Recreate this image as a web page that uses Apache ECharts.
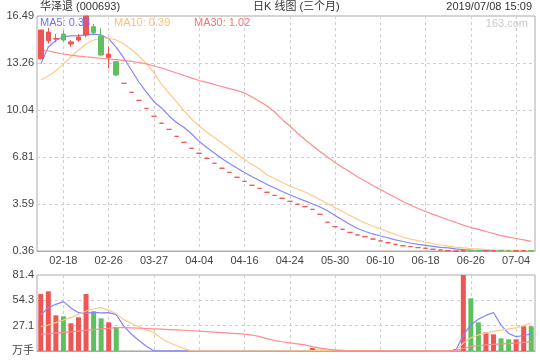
<!DOCTYPE html>
<html><head><meta charset="utf-8">
<script src="https://cdn.jsdelivr.net/npm/echarts@6/dist/echarts.min.js"></script>
<style>html,body{margin:0;padding:0;background:#fff}#c{width:540px;height:360px}</style>
</head><body><div id="c"></div>
<script>
// ---------- data ----------
const dates = ['02-13','02-14','02-15','02-18','02-19','02-20','02-21','02-22','02-25','02-26',
  '02-27','03-21','03-22','03-25','03-26','03-27','03-28','03-29','04-01','04-02',
  '04-03','04-04','04-08','04-09','04-10','04-11','04-15','04-16','04-17','04-18',
  '04-19','04-22','04-23','04-24','05-23','05-24','05-27','05-28','05-29','05-30',
  '05-31','06-03','06-04','06-05','06-06','06-10','06-11','06-12','06-13','06-14',
  '06-17','06-18','06-19','06-20','06-21','06-24','06-25','06-26','06-27','06-28',
  '07-01','07-02','07-03','07-04','07-05','07-08'];
const opens = [13.56,14.79,14.91,15.25,14.57,14.84,15.19,15.76,15.12,13.63,13.35,
  11.87,11.25,10.70,10.15,9.61,9.13,8.71,8.23,7.82,7.41,
  7.07,6.72,6.38,6.04,5.76,5.42,5.14,4.87,4.66,4.39,
  4.18,3.98,3.77,3.57,3.40,3.22,2.88,2.33,2.03,1.85,
  1.64,1.46,1.34,1.18,1.05,0.93,0.82,0.72,0.66,0.59,
  0.55,0.48,0.43,0.38,0.36,
  0.36,0.41,0.39,0.37,0.38,0.39,0.38,0.37,0.38,0.39];
const closes = [15.53,15.39,14.94,14.84,14.71,15.05,16.49,15.35,13.81,13.88,12.44,
  11.87,11.25,10.70,10.15,9.61,9.13,8.71,8.23,7.82,7.41,
  7.07,6.72,6.38,6.04,5.76,5.42,5.14,4.87,4.66,4.39,
  4.18,3.98,3.77,3.57,3.40,3.22,2.88,2.33,2.03,1.85,
  1.64,1.46,1.34,1.18,1.05,0.93,0.82,0.72,0.66,0.59,
  0.55,0.48,0.43,0.38,0.36,
  0.40,0.39,0.37,0.38,0.39,0.38,0.37,0.38,0.39,0.38];
const lows = [13.50,14.60,14.70,14.72,14.38,14.72,15.03,15.25,13.77,12.90,12.37,
  11.87,11.25,10.70,10.15,9.61,9.13,8.71,8.23,7.82,7.41,
  7.07,6.72,6.38,6.04,5.76,5.42,5.14,4.87,4.66,4.39,
  4.18,3.98,3.77,3.57,3.40,3.22,2.88,2.33,2.03,1.85,
  1.64,1.46,1.34,1.18,1.05,0.93,0.82,0.72,0.66,0.59,
  0.55,0.48,0.43,0.38,0.36,
  0.36,0.38,0.37,0.37,0.37,0.38,0.37,0.37,0.37,0.38];
const highs = [15.55,15.68,15.25,15.48,14.84,15.25,16.49,15.94,15.65,14.38,13.42,
  11.87,11.25,10.70,10.15,9.61,9.13,8.71,8.23,7.82,7.41,
  7.07,6.72,6.38,6.04,5.76,5.42,5.14,4.87,4.66,4.39,
  4.18,3.98,3.77,3.57,3.40,3.22,2.88,2.33,2.03,1.85,
  1.64,1.46,1.34,1.18,1.05,0.93,0.82,0.72,0.66,0.59,
  0.55,0.48,0.43,0.38,0.36,
  0.41,0.42,0.40,0.39,0.39,0.40,0.39,0.38,0.40,0.39];
const ma5 = [13.20,14.36,14.81,15.07,15.12,15.14,15.19,15.25,15.19,14.93,14.33,
  13.61,12.78,11.96,11.27,10.61,10.18,9.63,9.18,8.84,8.39,
  7.88,7.46,7.09,6.71,6.37,6.06,5.75,5.46,5.20,4.92,
  4.68,4.44,4.22,4.00,3.80,3.60,3.38,3.12,2.80,2.49,
  2.18,1.90,1.70,1.53,1.39,1.27,1.12,1.01,0.91,0.82,
  0.75,0.68,0.61,0.57,0.51,0.46,0.43,0.41,0.40,0.39,
  0.39,0.38,0.38,0.38,0.38];
const ma10 = [12.10,12.37,12.72,13.20,13.68,14.16,14.57,14.84,14.98,14.98,14.84,
  14.57,14.19,13.74,13.23,12.58,11.82,11.20,10.59,9.97,9.42,
  8.94,8.53,8.15,7.77,7.40,7.02,6.64,6.30,5.99,5.58,
  5.34,5.06,4.82,4.62,4.41,4.17,3.89,3.62,3.35,3.07,
  2.80,2.52,2.28,2.08,1.87,1.68,1.49,1.32,1.18,1.07,
  0.96,0.86,0.77,0.70,0.63,0.58,0.53,0.50,0.46,0.43,
  0.42,0.40,0.40,0.39,0.39];
const ma30 = [14.19,14.09,13.98,13.88,13.81,13.74,13.68,13.63,13.59,13.54,13.49,
  13.44,13.37,13.30,13.20,13.06,12.92,12.75,12.58,12.41,12.23,
  12.06,11.93,11.79,11.65,11.51,11.38,11.21,10.93,10.62,10.31,
  9.90,9.39,8.94,8.46,8.01,7.60,7.19,6.81,6.43,6.09,
  5.78,5.44,5.16,4.86,4.58,4.31,4.03,3.76,3.52,3.28,
  3.07,2.87,2.69,2.49,2.32,2.14,1.97,1.84,1.70,1.56,
  1.42,1.31,1.22,1.12,1.02];
const volumes = [61.0,63.9,38.2,37.2,29.7,36.1,61.0,42.5,35.0,30.7,25.4,
  0.1,0.1,0.1,0.1,0.1,0.1,0.1,0.1,0.1,0.1,
  0.1,0.1,0.1,0.1,0.1,0.1,0.1,0.1,0.1,0.1,
  0.1,0.1,0.1,0.1,0.1,3.2,0.1,0.1,0.1,0.1,
  0.1,0.1,0.1,0.1,0.1,0.1,0.1,0.1,0.1,0.1,
  0.1,0.1,1.1,0.1,2.1,81.4,56.4,30.7,20.0,17.9,
  13.6,12.5,12.5,26.5,26.5];
const vma5 = [38.6,46.5,50.0,52.9,46.0,41.0,40.4,41.3,40.9,41.1,38.9,
  26.7,18.2,11.2,5.1,0.1,0.1,0.1,0.1,0.1,0.1,
  0.1,0.1,0.1,0.1,0.1,0.1,0.1,0.1,0.1,0.1,
  0.1,0.1,0.1,0.1,0.1,0.7,0.7,0.7,0.7,0.7,
  0.1,0.1,0.1,0.1,0.1,0.1,0.1,0.1,0.1,0.1,
  0.1,0.1,0.3,0.3,0.7,16.9,28.2,34.1,38.1,41.3,
  27.7,18.9,15.3,16.6,18.3];
const vma10 = [26.1,27.8,30.4,33.2,35.8,39.3,42.8,45.0,46.5,43.5,40.0,
  33.6,29.8,26.0,22.6,19.5,13.4,9.1,5.6,2.5,0.1,
  0.1,0.1,0.1,0.1,0.1,0.1,0.1,0.1,0.1,0.1,
  0.1,0.1,0.1,0.1,0.1,0.4,0.4,0.4,0.4,0.4,
  0.4,0.4,0.4,0.4,0.4,0.1,0.1,0.1,0.1,0.1,
  0.1,0.1,0.2,0.2,0.4,8.5,14.1,17.2,19.2,21.0,
  22.3,23.6,24.7,27.4,29.8];
const vma30 = [17.9,18.5,19.2,19.9,20.5,21.3,22.1,22.9,23.6,24.3,25.0,
  25.0,24.8,24.4,24.1,23.8,23.4,23.0,22.6,22.2,21.7,
  21.2,20.7,20.2,19.7,19.2,18.7,18.0,17.1,15.4,13.3,
  11.2,9.9,8.7,7.7,6.5,4.6,3.1,2.0,1.0,0.2,
  0.2,0.2,0.2,0.2,0.2,0.2,0.2,0.2,0.2,0.2,
  0.2,0.2,0.2,0.2,0.3,2.9,4.8,5.8,6.5,7.1,
  7.6,8.0,8.4,9.3,10.1];
const priceMin = 0.36, priceMax = 16.49, priceSteps = 5;
const volMax = 81.4, volSteps = 3;
const volUnit = '万手';
const titleText = '华泽退 (000693)';
const subText = '日K 线图 (三个月)';
const timeText = '2019/07/08 15:09';
const siteText = '163.com';
const labelStart = 3, labelEvery = 6;

// ---------- styles ----------
const RED = '#ee5555', GREEN = '#5ec05e';
const C5 = '#8585ff', C10 = '#ffc987', C30 = '#ff8c8c';
const FONT = '"Liberation Sans","Noto Sans CJK SC",sans-serif';
const GRIDC = '#cfcfcf', BORDER = '#aaaaaa', TXT = '#444';

const isUp = i => closes[i] >= opens[i];
const kData = dates.map((d, i) => {
  const item = { value: [opens[i], closes[i], lows[i], highs[i]] };
  if (closes[i] === opens[i]) item.itemStyle = { color: RED, color0: RED, borderColor: RED, borderColor0: RED };
  return item;
});
const volData = volumes.map((v, i) => ({ value: v, itemStyle: { color: isUp(i) ? RED : GREEN } }));
const showIdx = i => (i - labelStart) % labelEvery === 0 && i >= labelStart;

function xAxis(gi, showLabel) {
  return {
    type: 'category', gridIndex: gi, data: dates, boundaryGap: true,
    axisLine: { show: true, lineStyle: { color: BORDER } },
    axisTick: { show: false },
    axisLabel: { show: showLabel, interval: showIdx, color: TXT, fontSize: 11, fontFamily: FONT, margin: 4 },
    splitLine: { show: true, interval: showIdx, alignWithLabel: true, lineStyle: { color: GRIDC, type: [3, 3] } }
  };
}
function line(name, data, color, xi, yi) {
  return { name, type: 'line', data, xAxisIndex: xi, yAxisIndex: yi, symbol: 'none', smooth: false,
    lineStyle: { color, width: 1.2 }, itemStyle: { color }, silent: true, z: 3 };
}

const chart = echarts.init(document.getElementById('c'), null, { renderer: 'canvas' });
chart.setOption({
  animation: false,
  backgroundColor: '#fff',
  grid: [
    { left: 37, right: 5, top: 16, height: 235, show: true, borderColor: BORDER, borderWidth: 1 },
    { left: 37, right: 5, top: 275, height: 76, show: true, borderColor: BORDER, borderWidth: 1 }
  ],
  xAxis: [xAxis(0, true), xAxis(1, false)],
  yAxis: [
    { type: 'value', gridIndex: 0, min: priceMin, max: priceMax, interval: (priceMax - priceMin) / priceSteps,
      axisLine: { show: false }, axisTick: { show: false },
      axisLabel: { color: TXT, fontSize: 11, fontFamily: FONT, margin: 3, formatter: v => v.toFixed(2) },
      splitLine: { show: true, showMinLine: false, showMaxLine: false, lineStyle: { color: GRIDC, type: [3, 3] } } },
    { type: 'value', gridIndex: 1, min: 0, max: volMax, interval: volMax / volSteps,
      axisLine: { show: false }, axisTick: { show: false },
      axisLabel: { color: TXT, fontSize: 11, fontFamily: FONT, margin: 3, formatter: v => v === 0 ? volUnit : v.toFixed(1) },
      splitLine: { show: true, showMinLine: false, showMaxLine: false, lineStyle: { color: GRIDC, type: [3, 3] } } }
  ],
  series: [
    { type: 'candlestick', xAxisIndex: 0, yAxisIndex: 0, data: kData, barWidth: 5, z: 4,
      itemStyle: { color: RED, color0: GREEN, borderColor: RED, borderColor0: GREEN, borderWidth: 1 } },
    line('MA5', ma5, C5, 0, 0), line('MA10', ma10, C10, 0, 0), line('MA30', ma30, C30, 0, 0),
    { type: 'bar', xAxisIndex: 1, yAxisIndex: 1, data: volData, barWidth: 5, z: 2 },
    line('VMA5', vma5, C5, 1, 1), line('VMA10', vma10, C10, 1, 1), line('VMA30', vma30, C30, 1, 1)
  ],
  graphic: [
    { type: 'text', x: 40, y: 7, style: { text: titleText, fill: '#333', font: '11px ' + FONT, textVerticalAlign: 'middle' } },
    { type: 'text', x: 253, y: 7, style: { text: subText, fill: '#333', font: '11px ' + FONT, textVerticalAlign: 'middle' } },
    { type: 'text', x: 532, y: 7, style: { text: timeText, fill: '#333', font: '11px ' + FONT, textAlign: 'right', textVerticalAlign: 'middle' } },
    { type: 'text', x: 528, y: 24, style: { text: siteText, fill: '#c8c8c8', font: '11px ' + FONT, textAlign: 'right', textVerticalAlign: 'middle' } },
    { type: 'text', x: 40, y: 23, z: 10, style: { text: 'MA5: ' + ma5[ma5.length - 1].toFixed(2), fill: '#7070ff', font: '11px ' + FONT, textVerticalAlign: 'middle' } },
    { type: 'text', x: 114, y: 23, z: 10, style: { text: 'MA10: ' + ma10[ma10.length - 1].toFixed(2), fill: '#ffbf70', font: '11px ' + FONT, textVerticalAlign: 'middle' } },
    { type: 'text', x: 194, y: 23, z: 10, style: { text: 'MA30: ' + ma30[ma30.length - 1].toFixed(2), fill: '#ff7070', font: '11px ' + FONT, textVerticalAlign: 'middle' } }
  ]
});
</script></body></html>
